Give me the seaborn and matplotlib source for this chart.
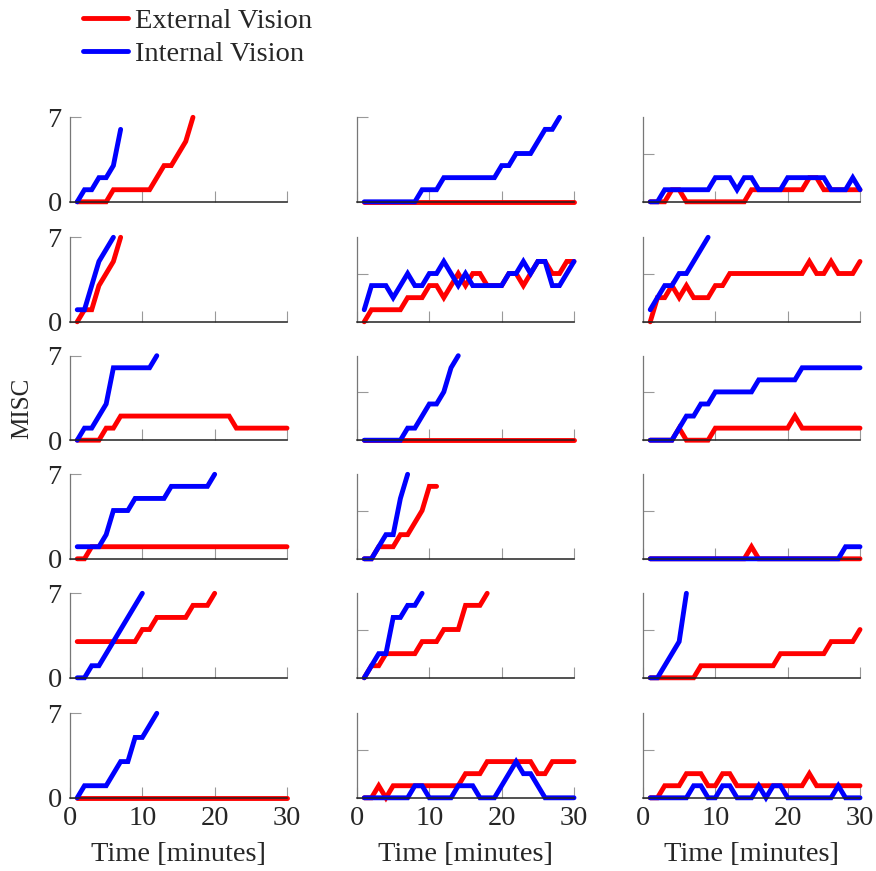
import matplotlib
matplotlib.use("Agg")
import matplotlib.pyplot as plt
import seaborn as sns
import pandas as pd

# MISC ratings per minute (starting at minute 1) for each participant panel
ext_1_1 = [0, 0, 0, 0, 0, 1, 1, 1, 1, 1, 1, 2, 3, 3, 4, 5, 7]
int_1_1 = [0, 1, 1, 2, 2, 3, 6]
ext_1_2 = [0] * 30
int_1_2 = [0, 0, 0, 0, 0, 0, 0, 0, 1, 1, 1, 2, 2, 2, 2, 2, 2, 2, 2, 3, 3, 4, 4, 4, 5, 6, 6, 7]
ext_1_3 = [0, 0, 0, 1, 1, 0, 0, 0, 0, 0, 0, 0, 0, 0, 1, 1, 1, 1, 1, 1, 1, 1, 2, 2, 1, 1, 1, 1, 1, 1]
int_1_3 = [0, 0, 1, 1, 1, 1, 1, 1, 1, 2, 2, 2, 1, 2, 2, 1, 1, 1, 1, 2, 2, 2, 2, 2, 2, 1, 1, 1, 2, 1]

ext_2_1 = [0, 1, 1, 3, 4, 5, 7]
int_2_1 = [1, 1, 3, 5, 6, 7]
ext_2_2 = [0, 1, 1, 1, 1, 1, 2, 2, 2, 3, 3, 2, 3, 4, 3, 4, 4, 3, 3, 3, 4, 4, 3, 4, 5, 5, 4, 4, 5, 5]
int_2_2 = [1, 3, 3, 3, 2, 3, 4, 3, 3, 4, 4, 5, 4, 3, 4, 3, 3, 3, 3, 3, 4, 4, 5, 4, 5, 5, 3, 3, 4, 5]
ext_2_3 = [0, 2, 2, 3, 2, 3, 2, 2, 2, 3, 3, 4, 4, 4, 4, 4, 4, 4, 4, 4, 4, 4, 5, 4, 4, 5, 4, 4, 4, 5]
int_2_3 = [1, 2, 3, 3, 4, 4, 5, 6, 7]

ext_3_1 = [0, 0, 0, 0, 1, 1] + [2] * 16 + [1] * 8
int_3_1 = [0, 1, 1, 2, 3, 6, 6, 6, 6, 6, 6, 7]
ext_3_2 = [0] * 30
int_3_2 = [0, 0, 0, 0, 0, 0, 1, 1, 2, 3, 3, 4, 6, 7]
ext_3_3 = [0, 0, 0, 0, 1, 0, 0, 0, 0] + [1] * 11 + [2] + [1] * 9
int_3_3 = [0, 0, 0, 0, 1, 2, 2, 3, 3] + [4] * 6 + [5] * 6 + [6] * 9

ext_4_1 = [0, 0] + [1] * 28
int_4_1 = [1, 1, 1, 1, 2, 4, 4, 4, 5, 5, 5, 5, 5, 6, 6, 6, 6, 6, 6, 7]
ext_4_2 = [0, 0, 1, 1, 1, 2, 2, 3, 4, 6, 6]
int_4_2 = [0, 0, 1, 2, 2, 5, 7]
ext_4_3 = [0] * 14 + [1] + [0] * 15
int_4_3 = [0] * 27 + [1, 1, 1]

ext_5_1 = [3] * 9 + [4, 4, 5, 5, 5, 5, 5, 6, 6, 6, 7]
int_5_1 = [0, 0, 1, 1, 2, 3, 4, 5, 6, 7]
ext_5_2 = [0, 1, 1, 2, 2, 2, 2, 2, 3, 3, 3, 4, 4, 4, 6, 6, 6, 7]
int_5_2 = [0, 1, 2, 2, 5, 5, 6, 6, 7]
ext_5_3 = [0] * 7 + [1] * 11 + [2] * 7 + [3] * 4 + [4]
int_5_3 = [0, 0, 1, 2, 3, 7]

ext_6_1 = [0] * 30
int_6_1 = [0, 1, 1, 1, 1, 2, 3, 3, 5, 5, 6, 7]
ext_6_2 = [0, 0, 1, 0] + [1] * 10 + [2, 2, 2] + [3] * 7 + [2, 2] + [3] * 4
int_6_2 = [0] * 7 + [1, 1] + [0] * 4 + [1, 1, 1] + [0, 0, 0] + [1, 2, 3, 2, 2, 1] + [0] * 5
ext_6_3 = [0, 0, 1, 1, 1, 2, 2, 2, 1, 1, 2, 2] + [1] * 10 + [2] + [1] * 7
int_6_3 = [0] * 6 + [1, 1, 0, 0, 1, 1, 0, 0, 0, 1, 0, 1, 1] + [0] * 7 + [1, 0, 0, 0]

panels = [
    [(ext_1_1, int_1_1), (ext_1_2, int_1_2), (ext_1_3, int_1_3)],
    [(ext_2_1, int_2_1), (ext_2_2, int_2_2), (ext_2_3, int_2_3)],
    [(ext_3_1, int_3_1), (ext_3_2, int_3_2), (ext_3_3, int_3_3)],
    [(ext_4_1, int_4_1), (ext_4_2, int_4_2), (ext_4_3, int_4_3)],
    [(ext_5_1, int_5_1), (ext_5_2, int_5_2), (ext_5_3, int_5_3)],
    [(ext_6_1, int_6_1), (ext_6_2, int_6_2), (ext_6_3, int_6_3)],
]

conditions = ["External Vision", "Internal Vision"]
palette = {"External Vision": "#ff0000", "Internal Vision": "#0000ff"}
x_ticks = [0, 10, 20, 30]

sns.set_theme(style="white")
plt.rcParams["font.family"] = ["Liberation Serif", "DejaVu Serif"]
FS = 20.5

W, H = 876, 871
fig = plt.figure(figsize=(W / 100, H / 100), dpi=100)

col_left = [70, 357, 643]
row_top = [117.3, 237.3, 355.7, 474.3, 593.3, 713.3]
ax_w, ax_h = 217, 84.5

axes = []
for r, row in enumerate(panels):
    for c, (ext, inn) in enumerate(row):
        ax = fig.add_axes([col_left[c] / W, 1 - (row_top[r] + ax_h) / H, ax_w / W, ax_h / H])
        frames = []
        for name, vals in zip(conditions, (ext, inn)):
            frames.append(pd.DataFrame({
                "time": list(range(1, len(vals) + 1)),
                "misc": vals,
                "vision": name,
            }))
        df = pd.concat(frames, ignore_index=True)
        sns.lineplot(data=df, x="time", y="misc", hue="vision", hue_order=conditions,
                     palette=palette, linewidth=3.5, legend=False, ax=ax,
                     clip_on=False, solid_joinstyle="miter")
        ax.set_xlim(0, 30)
        ax.set_ylim(0, 7)
        ax.set_xlabel("")
        ax.set_ylabel("")
        for side in ("top", "right"):
            ax.spines[side].set_visible(False)
        ax.spines["left"].set_color("#777777")
        ax.spines["left"].set_linewidth(0.9)
        ax.spines["bottom"].set_color("#222222")
        ax.spines["bottom"].set_linewidth(1.1)
        ax.set_xticks(x_ticks)
        if c == 0:
            ax.set_yticks([0, 7])
            ax.set_yticklabels(["0", "7"])
        elif r == 0 and c == 1:
            ax.set_yticks([0, 7])
            ax.set_yticklabels([])
        else:
            ax.set_yticks([0, 4])
            ax.set_yticklabels([])
        ax.tick_params(axis="both", direction="in", length=8, width=0.8,
                       color="#999999", labelsize=FS, pad=6)
        ax.tick_params(axis="y", left=True)
        ax.tick_params(axis="x", bottom=True)
        if r == len(panels) - 1:
            ax.set_xlabel("Time [minutes]", fontsize=FS, labelpad=8)
        else:
            ax.set_xticklabels([])
        axes.append(ax)

fig.text(22 / W, 1 - 408 / H, "MISC", rotation=90, fontsize=18, ha="center", va="center")

handles = axes[0].get_lines()[:2]
fig.legend(handles, conditions, loc="upper left", bbox_to_anchor=(83 / W, 1 - 8 / H),
           frameon=False, fontsize=FS, handlelength=1.58, handletextpad=0.25,
           labelspacing=0.25, borderpad=0.0, borderaxespad=0.0)

fig.savefig("out.png", dpi=100)
